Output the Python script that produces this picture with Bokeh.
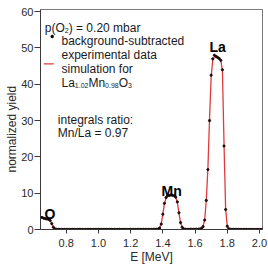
import numpy as np
from bokeh.plotting import figure
from bokeh.models import Range1d, FixedTicker, ColumnDataSource, Title
from bokeh.core.properties import value
from bokeh.embed import file_html
from bokeh.resources import INLINE

# Energy channels [MeV]
energy = np.round(np.arange(64, 203) / 100, 2)

# Background-subtracted experimental yield, per channel
exp_o = [3.4, 3.3, 3.1, 3.0, 2.9, 2.8, 2.5, 1.6, 0.6, 0.15, 0.05]
exp_gap1 = [0.03, 0.01, 0.02, 0.00, 0.02, 0.01, 0.03, 0.00, 0.01, 0.02,
            0.01, 0.00, 0.02, 0.03, 0.01, 0.02, 0.00, 0.01, 0.02, 0.01,
            0.03, 0.02, 0.00, 0.01, 0.02, 0.01, 0.03, 0.02, 0.01, 0.00,
            0.02, 0.01, 0.03, 0.02, 0.01, 0.02, 0.00, 0.01, 0.03, 0.02,
            0.01, 0.02, 0.01, 0.00, 0.02, 0.03, 0.01, 0.02, 0.01, 0.02,
            0.03, 0.01, 0.02, 0.02, 0.01, 0.03, 0.02, 0.02, 0.03, 0.03,
            0.04]
exp_mn = [0.05, 0.1, 0.4, 1.5, 4.2, 7.2, 8.8, 9.3, 9.4, 9.5,
          9.4, 9.3, 8.9, 7.6, 4.6, 1.9, 0.6, 0.15, 0.05]
exp_gap2 = [0.04, 0.03, 0.05, 0.04, 0.05, 0.06, 0.07, 0.08]
exp_la = [0.1, 0.3, 0.8, 2.6, 8.0, 16.5, 30.0, 42.5, 47.0, 48.0,
          47.7, 47.4, 47.1, 46.6, 44.0, 23.0, 5.5, 0.9, 0.2, 0.05]
exp_tail = [0.03, 0.02, 0.02, 0.01, 0.02, 0.01, 0.00, 0.01, 0.02, 0.01,
            0.00, 0.01, 0.01, 0.02, 0.00, 0.01, 0.01, 0.00, 0.01, 0.01]

# Simulated yield for La1.02Mn0.98O3
sim_o = [3.3, 3.2, 3.1, 3.0, 2.9, 2.8, 2.5, 1.7, 0.7, 0.2, 0.05]
sim_gap1 = [0.02, 0.02, 0.02, 0.02, 0.02, 0.02, 0.02, 0.02, 0.02, 0.02,
            0.02, 0.02, 0.02, 0.02, 0.02, 0.02, 0.02, 0.02, 0.02, 0.02,
            0.02, 0.02, 0.02, 0.02, 0.02, 0.02, 0.02, 0.02, 0.02, 0.02,
            0.02, 0.02, 0.02, 0.02, 0.02, 0.02, 0.02, 0.02, 0.02, 0.02,
            0.02, 0.02, 0.02, 0.02, 0.02, 0.02, 0.02, 0.02, 0.02, 0.02,
            0.02, 0.02, 0.02, 0.02, 0.02, 0.02, 0.02, 0.02, 0.03, 0.03,
            0.04]
sim_mn = [0.05, 0.12, 0.45, 1.6, 4.3, 7.1, 8.7, 9.2, 9.35, 9.4,
          9.4, 9.3, 8.9, 7.5, 4.6, 1.9, 0.65, 0.18, 0.06]
sim_gap2 = [0.04, 0.04, 0.05, 0.05, 0.06, 0.07, 0.08, 0.10]
sim_la = [0.15, 0.35, 0.9, 2.7, 8.2, 17.0, 30.5, 42.0, 46.6, 47.6,
          47.6, 47.4, 47.1, 46.6, 43.8, 23.5, 5.6, 1.0, 0.22, 0.06]
sim_tail = [0.02, 0.02, 0.02, 0.02, 0.02, 0.02, 0.02, 0.02, 0.02, 0.02,
            0.02, 0.02, 0.02, 0.02, 0.02, 0.02, 0.02, 0.02, 0.02, 0.02]

x_ticks = [0.8, 1.0, 1.2, 1.4, 1.6, 1.8, 2.0]
x_tick_labels = ["0.8", "1.0", "1.2", "1.4", "1.6", "1.8", "2.0"]
y_ticks = [0, 10, 20, 30, 40, 50, 60]

exp_yield = exp_o + exp_gap1 + exp_mn + exp_gap2 + exp_la + exp_tail
sim_yield = sim_o + sim_gap1 + sim_mn + sim_gap2 + sim_la + sim_tail

src = ColumnDataSource(dict(e=energy, exp=exp_yield, sim=sim_yield))

X0, X1 = 0.640, 2.019
Y0, Y1 = 0.0, 60.6
FL, FT, FW, FH = 40, 9, 222, 220  # frame left/top/width/height in px

p = figure(frame_width=FW, frame_height=FH, x_range=Range1d(X0, X1), y_range=Range1d(Y0, Y1),
           output_backend="svg", toolbar_location=None, title=None,
           min_border=0,
           min_border_left=FL, min_border_right=268 - FL - FW,
           min_border_top=FT, min_border_bottom=271 - FT - FH)
p.xgrid.visible = False
p.ygrid.visible = False
p.outline_line_color = "#7a7a7a"
p.outline_line_width = 1
p.background_fill_color = "white"
p.border_fill_color = "white"

FONT = "Liberation Sans"
for ax in (p.xaxis[0], p.yaxis[0]):
    ax.axis_line_color = "#3a3a3a"
    ax.major_tick_line_color = "#3a3a3a"
    ax.minor_tick_line_color = None
    ax.major_tick_in = 0
    ax.major_label_text_font = FONT
    ax.major_label_text_font_size = "11px"
    ax.major_label_text_color = "#2a2a2a"
    ax.axis_label_text_font = FONT
    ax.axis_label_text_font_size = "12px"
    ax.axis_label_text_font_style = "normal"
    ax.axis_label_text_color = "#2a2a2a"

p.xaxis.ticker = FixedTicker(ticks=x_ticks)
p.xaxis.major_label_overrides = {t: s for t, s in zip(x_ticks, x_tick_labels)}
p.xaxis.major_tick_out = 4
p.xaxis.major_label_standoff = 5
p.xaxis.axis_label = "E [MeV]"
p.xaxis.axis_label_standoff = 0

p.yaxis.ticker = FixedTicker(ticks=y_ticks)
p.yaxis.major_tick_out = 6
p.yaxis.major_label_standoff = 1

# y-axis title as a side title, so that it can sit a little below the frame centre
p.add_layout(Title(text="normalized yield", align="left", offset=57, standoff=0,
                   text_font=FONT, text_font_size="12px", text_font_style="normal",
                   text_color="#2a2a2a"), "left")

p.line("e", "sim", source=src, line_color="#e03a3a", line_width=1.3)
p.scatter("e", "exp", source=src, size=2.2, color="#1a0a0a")


def dx(px):
    return X0 + (px - FL) * (X1 - X0) / FW


def dy(py):
    return Y1 - (py - FT) * (Y1 - Y0) / FH


def txt(px, py, s, size="12px", style="normal", color="#1a1a1a"):
    p.text(x=[dx(px)], y=[dy(py)], text=[s], text_font=value(FONT),
           text_font_size=size, text_font_style=style, text_color=color,
           text_baseline="alphabetic", text_align="left")


# legend block
txt(44.3, 27, "p(O")
txt(64.3, 29.5, "2", size="7px")
txt(68.2, 27, ") = 0.20 mbar")
p.scatter(x=[dx(51.7)], y=[dy(36)], size=2.6, color="black")
txt(61, 40.5, "background-subtracted")
txt(61, 54.5, "experimental data")
p.line(x=[dx(43.3), dx(53.3)], y=[dy(63.3), dy(63.3)], line_color="#e03a3a", line_width=1.3)
txt(61, 68.5, "simulation for")
txt(61, 82.5, "La")
txt(74.3, 85, "1.02", size="7px")
txt(87.9, 82.5, "Mn")
txt(104.6, 85, "0.98", size="7px")
txt(118.2, 82.5, "O")
txt(127.5, 85, "3", size="7px")
txt(57.3, 119, "integrals ratio:")
txt(57.3, 132.6, "Mn/La = 0.97")

# peak labels
txt(44, 213, "O", size="14px", style="bold", color="black")
txt(161, 190, "Mn", size="14px", style="bold", color="black")
txt(209, 46.7, "La", size="14px", style="bold", color="black")

open("out.html", "w").write(file_html(p, INLINE))
